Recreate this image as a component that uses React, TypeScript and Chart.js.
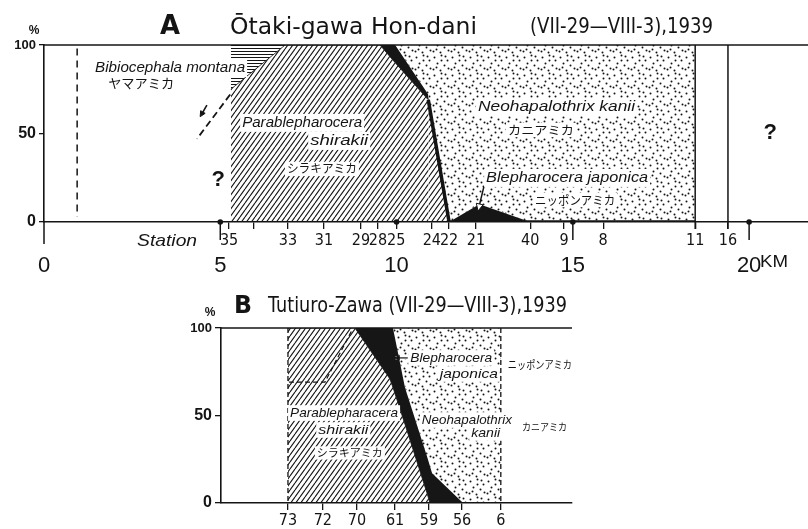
import React, { useEffect, useRef } from 'react';
import { Chart, registerables } from 'chart.js';
Chart.register(...registerables);

// ---------------- Data : A  Ōtaki-gawa Hon-dani ----------------
const stationKmA = [5.25, 5.96, 6.92, 7.94, 8.99, 9.47, 9.99, 11.0, 11.49, 12.25, 13.79, 14.75, 15.86, 18.47, 19.4];
const stationLabelsA = ['35', '', '33', '31', '29', '28', '25', '24', '22', '21', '40', '9', '8', '11', '16'];
const kmTicksA = [0, 5, 10, 15, 20];
const percentTicks = [0, 50, 100];
const gridKmA = [5.3, 6.84, 9.53, 9.96, 10.9, 11.49, 12.35, 13.79, 18.47];
const parablepharoceraA = [75, 100, 100, 90, 69, 0, 0, 0, 0];
const blepharoceraA = [0, 0, 0, 10, 3, 0, 10, 0, 0];
const neohapalothrixA = [0, 0, 0, 0, 28, 100, 90, 100, 100];
const bibiocephalaA = [25, 0, 0, 0, 0, 0, 0, 0, 0];

// ---------------- Data : B  Tutiuro-Zawa ----------------
const stationPosB = [1.9, 2.89, 3.86, 4.94, 5.9, 6.84, 7.94];
const stationLabelsB = ['73', '72', '70', '61', '59', '56', '6'];
const gridPosB = [1.9, 3.8, 4.79, 4.88, 5.22, 5.84, 5.93, 5.99, 6.87, 7.94];
const parablepharoceraB = [100, 100, 71, 66, 45, 6, 0, 0, 0, 0];
const blepharoceraB = [0, 0, 29, 34, 21, 21, 21, 17, 0, 0];
const neohapalothrixB = [0, 0, 0, 0, 34, 73, 79, 83, 100, 100];

// ---------------- Styles ----------------
const INK = '#141414';
const F_IT = '"Liberation Sans", Arial, sans-serif';
const F_CJK = '"Noto Sans CJK JP", sans-serif';
const F_NUM = '"Liberation Sans Narrow", "DejaVu Sans Condensed", "Liberation Sans", sans-serif';
const F_TITLE = '"DejaVu Sans", sans-serif';

function makeHatch() {
  const c = document.createElement('canvas');
  c.width = 5; c.height = 7;
  const g = c.getContext('2d')!;
  g.strokeStyle = INK; g.lineWidth = 1.1;
  g.beginPath();
  for (const dx of [-5, 0, 5]) { g.moveTo(dx, 7); g.lineTo(dx + 5, 0); }
  g.stroke();
  return g.createPattern(c, 'repeat')!;
}
function makeDots() {
  const c = document.createElement('canvas');
  c.width = 18; c.height = 18;
  const g = c.getContext('2d')!;
  g.fillStyle = INK;
  const pts = [[2, 3], [9, 1], [15, 6], [5, 9], [12, 11], [1, 15], [8, 16], [16, 14], [13, 2], [9, 6], [4, 13]];
  pts.forEach(([x, y]) => { g.beginPath(); g.arc(x + 0.5, y + 0.5, 1.0, 0, Math.PI * 2); g.fill(); });
  return g.createPattern(c, 'repeat')!;
}
function makeLines() {
  const c = document.createElement('canvas');
  c.width = 4; c.height = 3;
  const g = c.getContext('2d')!;
  g.fillStyle = INK; g.fillRect(0, 0, 4, 1);
  return g.createPattern(c, 'repeat')!;
}

function line(ctx: CanvasRenderingContext2D, pts: number[][], w: number, dash: number[] = []) {
  ctx.save();
  ctx.strokeStyle = INK; ctx.lineWidth = w; ctx.setLineDash(dash);
  ctx.beginPath();
  pts.forEach(([x, y], i) => (i ? ctx.lineTo(x, y) : ctx.moveTo(x, y)));
  ctx.stroke();
  ctx.restore();
}
function dot(ctx: CanvasRenderingContext2D, x: number, y: number, r: number) {
  ctx.save(); ctx.fillStyle = INK; ctx.beginPath(); ctx.arc(x, y, r, 0, Math.PI * 2); ctx.fill(); ctx.restore();
}
function arrow(ctx: CanvasRenderingContext2D, x0: number, y0: number, x1: number, y1: number, head: number, fill: string, w = 1.5) {
  const ang = Math.atan2(y1 - y0, x1 - x0);
  ctx.save();
  ctx.strokeStyle = INK; ctx.lineWidth = w;
  ctx.beginPath(); ctx.moveTo(x0, y0); ctx.lineTo(x1 - Math.cos(ang) * head * 0.6, y1 - Math.sin(ang) * head * 0.6); ctx.stroke();
  ctx.beginPath();
  ctx.moveTo(x1, y1);
  ctx.lineTo(x1 - head * Math.cos(ang - 0.45), y1 - head * Math.sin(ang - 0.45));
  ctx.lineTo(x1 - head * Math.cos(ang + 0.45), y1 - head * Math.sin(ang + 0.45));
  ctx.closePath();
  ctx.fillStyle = fill; ctx.fill(); ctx.lineWidth = 1; ctx.stroke();
  ctx.restore();
}
function txt(ctx: CanvasRenderingContext2D, s: string, x: number, y: number, size: number, family: string,
  o: { style?: string; w?: number; bg?: boolean; align?: string } = {}) {
  ctx.save();
  ctx.font = `${o.style || ''} ${size}px ${family}`;
  ctx.textBaseline = 'middle';
  ctx.textAlign = 'left';
  const mw = ctx.measureText(s).width;
  const k = o.w ? o.w / mw : 1;
  const W = mw * k;
  const left = o.align === 'center' ? x - W / 2 : x;
  if (o.bg) { ctx.fillStyle = '#fff'; ctx.fillRect(left - 2, y - size * 0.6, W + 4, size * 1.2); }
  ctx.fillStyle = INK;
  ctx.translate(left, y); ctx.scale(k, 1);
  ctx.fillText(s, 0, 0);
  ctx.restore();
}

type Lbl = { t: string; x: number; y: number; size: number; f: string; style?: string; w?: number; bg?: boolean; align?: string };
const labelsA: Lbl[] = [
  { t: 'Bibiocephala montana', x: 1.45, y: 87, size: 15, f: F_IT, style: 'italic', w: 150, bg: true },
  { t: 'ヤマアミカ', x: 1.82, y: 78.5, size: 13, f: F_CJK, w: 66 },
  { t: 'Parablepharocera', x: 5.62, y: 56, size: 15, f: F_IT, style: 'italic', w: 120, bg: true },
  { t: 'shirakii', x: 7.55, y: 45.8, size: 15, f: F_IT, style: 'italic', w: 58, bg: true },
  { t: 'シラキアミカ', x: 6.89, y: 30, size: 12, f: F_CJK, w: 70, bg: true },
  { t: 'Neohapalothrix kanii', x: 12.31, y: 65, size: 15, f: F_IT, style: 'italic', w: 157, bg: true },
  { t: 'カニアミカ', x: 13.16, y: 52, size: 12, f: F_CJK, w: 66, bg: true },
  { t: 'Blepharocera japonica', x: 12.54, y: 24.9, size: 15, f: F_IT, style: 'italic', w: 162, bg: true },
  { t: 'ニッポンアミカ', x: 13.93, y: 12.4, size: 12, f: F_CJK, w: 80, bg: true },
  { t: '?', x: 4.94, y: 23.7, size: 22, f: F_IT, style: 'bold', align: 'center' },
  { t: '?', x: 20.6, y: 50.3, size: 22, f: F_IT, style: 'bold', align: 'center' },
];
const labelsB: Lbl[] = [
  { t: 'Parablepharacera', x: 1.96, y: 51.4, size: 13, f: F_IT, style: 'italic', w: 108, bg: true },
  { t: 'shirakii', x: 2.76, y: 41.7, size: 13, f: F_IT, style: 'italic', w: 50, bg: true },
  { t: 'シラキアミカ', x: 2.72, y: 28.6, size: 11, f: F_CJK, w: 66, bg: true },
  { t: 'Blepharocera', x: 5.37, y: 82.9, size: 13, f: F_IT, style: 'italic', w: 82, bg: true },
  { t: 'japonica', x: 6.21, y: 73.7, size: 13, f: F_IT, style: 'italic', w: 58, bg: true },
  { t: 'ニッポンアミカ', x: 8.14, y: 78.9, size: 11, f: F_CJK, w: 64 },
  { t: 'Neohapalothrix', x: 5.7, y: 47.4, size: 13, f: F_IT, style: 'italic', w: 90, bg: true },
  { t: 'kanii', x: 7.1, y: 40, size: 13, f: F_IT, style: 'italic', w: 29, bg: true },
  { t: 'カニアミカ', x: 8.54, y: 43.4, size: 10, f: F_CJK, w: 45 },
];

function drawLabels(chart: any, list: Lbl[]) {
  const { ctx, scales } = chart;
  list.forEach((l) => txt(ctx, l.t, scales.x.getPixelForValue(l.x), scales.y.getPixelForValue(l.y), l.size, l.f,
    { style: l.style, w: l.w, bg: l.bg, align: l.align }));
}

const decorA = {
  id: 'decorA',
  afterDraw(chart: any) {
    const { ctx, chartArea: a, scales } = chart;
    const sx = (v: number) => scales.x.getPixelForValue(v);
    const sy = (v: number) => scales.y.getPixelForValue(v);
    line(ctx, [[a.left, a.top], [chart.width, a.top]], 1.6);
    line(ctx, [[a.left, a.bottom], [a.left, a.bottom + 22]], 1.5);
    kmTicksA.forEach((v) => {
      if (v > 0 && v !== 10) line(ctx, [[sx(v), a.bottom], [sx(v), a.bottom + 18]], 1.5);
      if (v > 0) dot(ctx, sx(v), a.bottom, 2.8);
    });
    [stationKmA[13], stationKmA[14]].forEach((v) => line(ctx, [[sx(v), a.top], [sx(v), a.bottom + 7]], 1.5));
    line(ctx, [[sx(0.94), sy(98)], [sx(0.94), sy(3)]], 1.5, [7, 5]);
    line(ctx, [[sx(5.28), sy(72)], [sx(4.34), sy(47)]], 1.8, [7, 4]);
    arrow(ctx, sx(4.62), sy(66), sx(4.43), sy(59.5), 6, INK, 1.6);
    arrow(ctx, sx(12.48), sy(20.3), sx(12.31), sy(6.2), 8, '#fff', 1.5);
    drawLabels(chart, labelsA);
    txt(ctx, 'Station', sx(2.64), a.bottom + 19, 17, F_IT, { style: 'italic', w: 60 });
    txt(ctx, 'KM', sx(20) + 11, a.bottom + 40, 17, F_IT, { w: 28 });
    txt(ctx, '%', a.left - 10, a.top - 14, 12, F_IT, { style: 'bold', align: 'center' });
    txt(ctx, 'A', 160, 27, 26, F_TITLE, { style: 'bold', w: 20 });
    txt(ctx, 'Ōtaki-gawa Hon-dani', 230, 28, 23, F_TITLE, { w: 247 });
    txt(ctx, '(VII-29—VIII-3),1939', 530, 28, 21, F_TITLE, { w: 183 });
  },
};

const decorB = {
  id: 'decorB',
  afterDraw(chart: any) {
    const { ctx, chartArea: a, scales } = chart;
    const sx = (v: number) => scales.x.getPixelForValue(v);
    const sy = (v: number) => scales.y.getPixelForValue(v);
    line(ctx, [[a.left, a.top], [a.right, a.top]], 1.6);
    line(ctx, [[sx(stationPosB[0]), sy(100)], [sx(stationPosB[0]), sy(0)]], 1.3, [5, 3]);
    line(ctx, [[sx(stationPosB[6]), sy(100)], [sx(stationPosB[6]), sy(0)]], 1.3, [5, 3]);
    line(ctx, [[sx(1.93), sy(69.1)], [sx(2.95), sy(69.1)], [sx(3.72), sy(98.9)]], 1.2, [5, 3]);
    ctx.save(); ctx.strokeStyle = '#fff'; ctx.lineWidth = 3;
    ctx.beginPath(); ctx.moveTo(sx(5.3), sy(82.9)); ctx.lineTo(sx(4.95), sy(82.9)); ctx.stroke(); ctx.restore();
    arrow(ctx, sx(5.3), sy(82.9), sx(4.93), sy(82.9), 5, INK, 1.2);
    drawLabels(chart, labelsB);
    txt(ctx, '%', a.left - 11, a.top - 15, 12, F_IT, { style: 'bold', align: 'center' });
    txt(ctx, 'B', 234, 27, 24, F_TITLE, { style: 'bold', w: 18 });
    txt(ctx, 'Tutiuro-Zawa (VII-29—VIII-3),1939', 268, 27, 21, F_TITLE, { w: 299 });
  },
};

function series(label: string, xs: number[], ys: number[], bg: any, extra: any = {}) {
  return {
    label,
    data: xs.map((x, i) => ({ x, y: ys[i] })),
    backgroundColor: bg,
    borderColor: 'rgba(0,0,0,0)',
    borderWidth: 1,
    pointRadius: 0,
    tension: 0,
    ...extra,
  };
}

function yAxis(width: number, tickLen: number) {
  return {
    type: 'linear', min: 0, max: 100, stacked: true,
    afterBuildTicks: (s: any) => { s.ticks = percentTicks.map((v) => ({ value: v })); },
    afterFit: (s: any) => { s.width = width; },
    ticks: {
      padding: 3, color: INK,
      font: (c: any) => ({ family: F_IT, weight: 'bold', size: c.tick && c.tick.value === 100 ? 13 : 16 }),
    },
    grid: { drawOnChartArea: false, tickLength: tickLen, color: INK, lineWidth: 1.3 },
    border: { color: INK, width: 1.6 },
  };
}

export default function App() {
  const refA = useRef<HTMLCanvasElement>(null);
  const refB = useRef<HTMLCanvasElement>(null);
  useEffect(() => {
    const hatch = makeHatch();
    const dots = makeDots();
    const hl = makeLines();
    const black = '#161616';

    const chartA = new Chart(refA.current!, {
      type: 'line',
      data: {
        datasets: [
          series('Parablepharocera shirakii', gridKmA, parablepharoceraA, hatch, {
            fill: 'origin', borderColor: INK,
            segment: { borderWidth: (c: any) => (c.p0.parsed.x >= 10.85 ? 3.5 : 0.8) },
          }),
          series('Blepharocera japonica', gridKmA, blepharoceraA, black, { fill: '-1' }),
          series('Neohapalothrix kanii', gridKmA, neohapalothrixA, dots, { fill: '-1' }),
          series('Bibiocephala montana', gridKmA, bibiocephalaA, hl, { fill: '-1' }),
        ],
      } as any,
      options: {
        animation: false, responsive: false, devicePixelRatio: 1, events: [],
        layout: { padding: { top: 45, left: 0, right: 0, bottom: 8 } },
        plugins: { legend: { display: false }, tooltip: { enabled: false } },
        scales: {
          x: {
            type: 'linear', min: 0, max: 21.67, position: 'bottom', weight: 0,
            afterBuildTicks: (s: any) => { s.ticks = stationKmA.map((v) => ({ value: v })); },
            afterFit: (s: any) => { s.height = 30; },
            ticks: {
              autoSkip: false, maxRotation: 0, padding: 2, color: INK,
              font: { family: F_NUM, size: 16 },
              callback: (_v: any, i: number) => stationLabelsA[i],
            },
            grid: { drawOnChartArea: false, tickLength: 7, color: INK, lineWidth: 1.3 },
            border: { color: INK, width: 1.6 },
          },
          km: {
            type: 'linear', axis: 'x', min: 0, max: 21.67, position: 'bottom', weight: 1,
            afterBuildTicks: (s: any) => { s.ticks = kmTicksA.map((v) => ({ value: v })); },
            afterFit: (s: any) => { s.height = 30; },
            ticks: {
              autoSkip: false, maxRotation: 0, padding: 1, color: INK,
              font: { family: F_IT, size: 22 },
              callback: (v: any) => String(v),
            },
            grid: { display: false, drawTicks: false },
            border: { display: false },
          },
          y: yAxis(44, 5),
        },
      } as any,
      plugins: [decorA],
    });

    const chartB = new Chart(refB.current!, {
      type: 'line',
      data: {
        datasets: [
          series('Parablepharocera shirakii', gridPosB, parablepharoceraB, hatch, { fill: 'origin', borderColor: INK, borderWidth: 0.8 }),
          series('Blepharocera japonica', gridPosB, blepharoceraB, black, { fill: '-1' }),
          series('Neohapalothrix kanii', gridPosB, neohapalothrixB, dots, { fill: '-1' }),
        ],
      } as any,
      options: {
        animation: false, responsive: false, devicePixelRatio: 1, events: [],
        layout: { padding: { top: 48, left: 0, right: 236, bottom: 0 } },
        plugins: { legend: { display: false }, tooltip: { enabled: false } },
        scales: {
          x: {
            type: 'linear', min: 0, max: 9.96, position: 'bottom',
            afterBuildTicks: (s: any) => { s.ticks = stationPosB.map((v) => ({ value: v })); },
            afterFit: (s: any) => { s.height = 26; },
            ticks: {
              autoSkip: false, maxRotation: 0, padding: 1, color: INK,
              font: { family: F_NUM, size: 16 },
              callback: (_v: any, i: number) => stationLabelsB[i],
            },
            grid: { drawOnChartArea: false, tickLength: 7, color: INK, lineWidth: 1.3 },
            border: { color: INK, width: 1.6 },
          },
          y: yAxis(221, 6),
        },
      } as any,
      plugins: [decorB],
    });

    return () => { chartA.destroy(); chartB.destroy(); };
  }, []);

  return (
    <div style={{ position: 'fixed', left: 0, top: 0, width: 808, height: 529, background: '#fff', overflow: 'hidden' }}>
      <canvas ref={refA} width={808} height={290} style={{ position: 'absolute', left: 0, top: 0 }} />
      <canvas ref={refB} width={808} height={249} style={{ position: 'absolute', left: 0, top: 280 }} />
    </div>
  );
}
